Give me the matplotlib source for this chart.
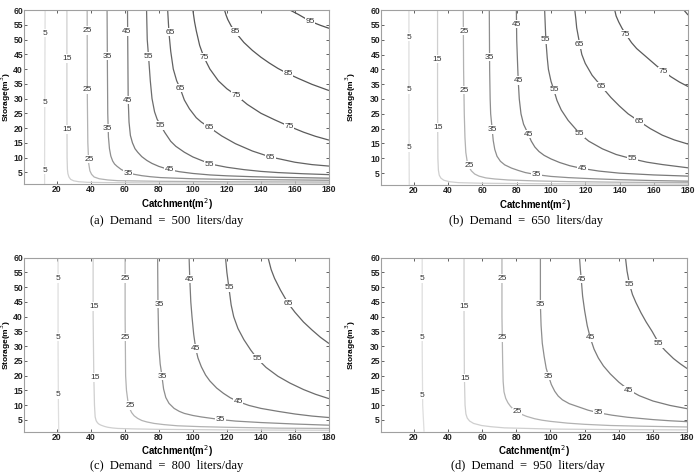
import matplotlib.pyplot as plt

DEMANDS = [500, 650, 800, 950]
TAGS = ["(a)", "(b)", "(c)", "(d)"]
X_TICKS = list(range(20, 181, 20))
Y_TICKS = list(range(5, 61, 5))

# contour lines: level -> (catchment m2, storage m3)
A_LINES = {
    5: ([13.2, 13.0, 12.9, 12.9], [60, 30, 10, 1]),
    15: ([26, 26, 26.1, 26.3, 26.6, 27.2, 28.2, 30, 33, 38, 50, 80, 180],
         [60, 30, 10, 6, 4.5, 3.4, 2.6, 2.1, 1.8, 1.6, 1.5, 1.4, 1.3]),
    25: ([37.9, 38, 38.3, 38.8, 39.5, 40.5, 42, 45, 50, 56, 80, 120, 180],
         [60, 30, 15, 8, 5.5, 4.3, 3.4, 2.8, 2.4, 2.15, 1.95, 1.8, 1.7]),
    35: ([49.6, 49.8, 50, 50.4, 51, 51.8, 52.9, 54, 55.5, 57.8, 60, 62, 65.6, 70, 75,
          81, 90, 100, 120, 140, 180],
         [60, 40, 25, 17, 13, 10.5, 8.8, 7.8, 7, 6.0, 5.3, 4.8, 4.3, 3.85, 3.5,
          3.2, 3.0, 2.8, 2.6, 2.5, 2.3]),
    45: ([61.6, 61.8, 62, 62.5, 63.3, 64.5, 66, 67.6, 70, 73, 76, 80, 86, 92, 100,
          110, 120, 135, 150, 180],
         [60, 45, 30, 22, 17.5, 15, 13, 11.8, 10.3, 9, 8, 7, 5.9, 5.2, 4.6,
          4.1, 3.8, 3.5, 3.3, 3.0]),
    55: ([72.8, 73.2, 74, 75, 76, 77.5, 79, 81, 83.5, 87, 90, 95, 100, 106, 112,
          120, 130, 140, 150, 165, 180],
         [60, 50, 44, 36, 30, 25.5, 23, 21, 18.5, 15.5, 13.8, 11.8, 10.2, 8.8, 7.6,
          6.7, 5.9, 5.3, 4.9, 4.5, 4.2]),
    65: ([85.2, 86, 87, 88.5, 90.5, 92.5, 95, 98, 102, 105, 109.5, 117, 125, 135,
          145.5, 160, 170, 180],
         [60, 52, 46, 40, 36, 33.5, 29.5, 26.5, 23.5, 22, 20.3, 17.3, 14.7, 12.2,
          10.2, 8.4, 7.6, 7.1]),
    75: ([100, 101, 102, 104, 106.5, 110, 115, 120, 125.7, 132, 140, 148, 156.5,
          165, 172, 180],
         [60, 56, 53, 48, 44, 40, 36, 33.3, 31, 28, 25, 22.8, 20.6,
          18.6, 17.2, 15.9]),
    85: ([118.6, 119.5, 120.5, 122.5, 124.7, 130, 135, 140, 145, 150, 155.9, 162,
          170, 180],
         [60, 58.3, 56.8, 54.6, 52.7, 49, 46.3, 44, 42, 40.2, 38.4, 36.8,
          34.8, 32.7]),
    95: ([157, 162, 168.9, 175, 180], [60, 58.5, 56.2, 54.8, 53.8]),
}
B_LINES = {
    5: ([17.1, 17.1, 17.2, 17.3], [60, 30, 10, 1]),
    15: ([33.8, 33.8, 34, 34.3, 34.8, 35.8, 37.5, 41, 46, 60, 100, 180],
         [60, 30, 10, 6, 4.3, 3.3, 2.6, 2.1, 1.8, 1.6, 1.4, 1.3]),
    25: ([48.8, 49, 49.4, 49.8, 50.3, 51, 52, 53.5, 55.5, 58, 62, 67, 75, 90, 110,
          140, 180],
         [60, 40, 25, 17, 12, 9.3, 7.3, 5.8, 4.7, 4.0, 3.4, 3.05, 2.7, 2.4, 2.15,
          1.95, 1.8]),
    35: ([64, 64.2, 64.5, 64.8, 65.7, 66.3, 67.2, 68.5, 70.5, 73, 77, 81, 85, 91.5,
          100, 110, 125, 140, 160, 180],
         [60, 40, 30, 25, 19.7, 16, 13, 10.7, 9, 7.8, 6.7, 5.9, 5.2, 4.5,
          3.9, 3.5, 3.1, 2.8, 2.5, 2.3]),
    45: ([79.8, 80, 80.5, 80.9, 81.5, 82.5, 84, 86.7, 88.5, 90.6, 93, 96, 100, 105,
          111, 118, 128, 140, 160, 180],
         [60, 50, 42, 36, 30, 25, 21.5, 18.2, 15.8, 13.8, 12.3, 11, 9.8, 8.6,
          7.5, 6.6, 5.7, 5.0, 4.4, 4.0]),
    55: ([96.3, 97, 97.8, 98.5, 100, 101.7, 103.5, 106, 110, 116.8, 122, 130, 138,
          147.5, 156, 165, 180],
         [60, 50, 44, 40, 36, 33, 29.5, 26.3, 22.8, 18.3, 15.8, 13.2, 11.3,
          9.8, 8.7, 7.9, 6.8]),
    65: ([113.9, 114.5, 115, 116.8, 118, 120, 124, 129.5, 135, 140, 145, 151.4, 158,
          165, 172, 180],
         [60, 57, 54, 48.4, 45, 42, 38, 34.2, 30.5, 27.6, 25, 22.5, 20,
          17.8, 16.2, 14.8]),
    75: ([137.2, 138, 139.5, 141.5, 143.6, 147, 150, 154, 158, 162, 165.8, 170, 175,
          180],
         [60, 58, 56, 53.8, 51.9, 49, 47, 45, 43, 41, 39.3, 37.5, 35.7, 34.2]),
    85: ([177.5, 179, 180], [60, 59, 58.3]),
}
C_LINES = {
    5: ([20.8, 20.8, 21.0, 21.2], [60, 30, 10, 1]),
    15: ([41.4, 41.4, 41.8, 42.2, 42.6, 43.2, 44, 45, 46.1, 48, 50, 53, 55.9, 65, 80,
          120, 180],
         [60, 40, 20, 10, 6, 4.7, 4, 3.5, 3.2, 2.8, 2.5, 2.25, 2.1, 1.95, 1.8,
          1.6, 1.5]),
    25: ([60.2, 60.2, 60.5, 61, 61.8, 62.8, 64, 65.5, 67.6, 70, 73, 77.3, 83, 91,
          105, 120, 150, 180],
         [60, 40, 20, 15, 11.5, 9, 7.5, 6.4, 5.5, 4.8, 4.3, 3.8, 3.4, 3.0,
          2.7, 2.5, 2.2, 2.1]),
    35: ([79.3, 79.5, 80, 80.8, 81.8, 82.8, 84.1, 86, 89, 92, 95, 100, 105, 110,
          116.3, 125, 140, 160, 180],
         [60, 45, 30, 24, 20, 15.5, 12.6, 10.6, 8.9, 7.9, 7.2, 6.5, 6.0, 5.6,
          5.1, 4.6, 4.1, 3.6, 3.2]),
    45: ([97.8, 98.2, 98.8, 99.5, 100.5, 101.7, 103, 105, 107.5, 110, 114, 118, 122,
          126.6, 133, 140, 150, 160, 170, 180],
         [60, 52.7, 45, 40, 34, 29.2, 26, 23, 20.2, 18.2, 15.8, 14, 12.5,
          11.2, 9.9, 8.9, 7.9, 7.0, 6.3, 5.8]),
    55: ([119.2, 120, 121.2, 122.5, 124, 126.5, 130, 134, 137.8, 143, 150, 157, 165,
          172, 180],
         [60, 55, 49.8, 44, 40, 36, 32.2, 28.7, 25.8, 22.8, 19.8, 17.5, 15.3,
          13.7, 12.2]),
    65: ([144.2, 146, 148, 151.5, 155.9, 160, 165, 170, 175, 180],
         [60, 56, 53, 49, 44.6, 41.5, 38.2, 35.5, 33, 30.9]),
}
D_LINES = {
    5: ([24.9, 24.9, 25.2, 26], [60, 30, 10, 1]),
    15: ([49.4, 49.4, 49.6, 50, 50.5, 51.3, 52.7, 55, 59.6, 65, 73, 100, 140, 180],
         [60, 40, 20, 10, 7, 5.6, 4.6, 3.8, 3.1, 2.7, 2.3, 1.9, 1.7, 1.6]),
    25: ([71.6, 71.6, 72, 72.3, 72.8, 73.8, 75.1, 76.6, 78.1, 80.4, 83, 86, 90.7,
          95, 100, 110, 120, 135, 150, 180],
         [60, 40, 25, 18, 14.5, 12.3, 10.8, 9.6, 8.7, 7.7, 6.9, 6.2, 5.4,
          4.9, 4.5, 3.9, 3.5, 3.1, 2.9, 2.6]),
    35: ([94.1, 94.1, 94.5, 95.2, 96.3, 97.5, 98.9, 100.5, 102.5, 104.5, 107, 111,
          117, 122, 128.2, 136, 145, 160, 170, 180],
         [60, 44, 37, 31, 26.5, 22.5, 19.8, 17, 14.7, 13.1, 11.8, 10.5,
          9.3, 8.3, 7.4, 6.6, 5.9, 5.1, 4.7, 4.4]),
    45: ([117, 117.5, 118, 118.8, 120, 121.5, 123.3, 125.5, 128, 131, 135, 140,
          145.7, 152, 160, 170, 180],
         [60, 56, 52.7, 47, 42, 37, 32.8, 29, 26, 23.3, 20.6, 17.8,
          15.2, 13.2, 11.4, 9.9, 8.8]),
    55: ([143.9, 144.8, 146.3, 148, 150, 153, 156, 159.5, 163.4, 167, 172, 176, 180],
         [60, 55.5, 50.9, 47.5, 44.8, 41.3, 38.2, 35, 31, 28.6, 25.8, 24, 22.4]),
}

# inline label positions: level -> [(catchment, storage), ...]
A_LABELS = {
    5: [(13, 52.1), (13, 28.5), (13, 5.7)],
    15: [(26, 43.6), (26.3, 19.5)],
    25: [(37.9, 53), (37.9, 33), (38.9, 9.4)],
    35: [(49.6, 44.3), (50, 20), (61.9, 4.7)],
    45: [(61.3, 52.7), (61.7, 29.4), (86.4, 5.8)],
    55: [(74, 44.2), (81.2, 20.9), (109.9, 7.5)],
    65: [(86.5, 52.5), (92.5, 33.5), (109.5, 20.3), (145.5, 10)],
    75: [(106.6, 44), (125.7, 31), (156.5, 20.6)],
    85: [(124.7, 52.7), (155.9, 38.4)],
    95: [(168.9, 56.2)],
}
B_LABELS = {
    5: [(17.1, 50.8), (17.1, 33.1), (17.1, 13.5)],
    15: [(33.8, 43.4), (34.2, 20.4)],
    25: [(49.4, 52.9), (49.4, 33), (52.1, 7.7)],
    35: [(64.3, 44.1), (65.7, 19.7), (91.5, 4.5)],
    45: [(79.9, 55.2), (80.9, 36.2), (86.7, 18.2), (118.2, 6.6)],
    55: [(97, 49.9), (101.7, 33.1), (116.8, 18.3), (147.5, 9.8)],
    65: [(116.8, 48.4), (129.5, 34.2), (151.4, 22.5)],
    75: [(143.6, 51.9), (165.8, 39.3)],
}
C_LABELS = {
    5: [(20.8, 52.9), (20.8, 33.1), (20.8, 13.5)],
    15: [(42.2, 43.4), (42.6, 19.4)],
    25: [(60.2, 52.9), (60.2, 33), (63.2, 9.9)],
    35: [(80.2, 44.2), (81.8, 19.8), (116.3, 5.1)],
    45: [(98.2, 52.7), (101.7, 29.2), (126.6, 11.1)],
    55: [(121.2, 49.8), (137.8, 25.8)],
    65: [(155.9, 44.6)],
}
D_LABELS = {
    5: [(24.9, 52.9), (24.9, 33.1), (24.9, 13.4)],
    15: [(49.4, 43.4), (49.8, 19.1)],
    25: [(71.6, 52.9), (71.6, 32.8), (80.4, 7.7)],
    35: [(94.1, 44.1), (98.9, 19.8), (128.2, 7.4)],
    45: [(118, 52.7), (123.3, 32.8), (145.7, 15)],
    55: [(146.3, 50.9), (163.4, 30.9)],
}

LEVEL_COLORS = {5: "#dedede", 15: "#cfcfcf", 25: "#b2b2b2", 35: "#8e8e8e",
                45: "#7a7a7a", 55: "#6c6c6c", 65: "#626262", 75: "#5a5a5a",
                85: "#555555", 95: "#505050"}

AX_RECTS = [
    [0.0350, 0.610, 0.4377, 0.3688],
    [0.5479, 0.608, 0.4407, 0.3708],
    [0.0350, 0.0854, 0.4377, 0.3686],
    [0.5479, 0.0854, 0.4394, 0.3686],
]
YLABEL_X = [-0.037, -0.075, -0.037, -0.075]
CAPTION_POS = [(0.240, 0.532), (0.756, 0.532), (0.240, 0.012), (0.758, 0.012)]
SANS = "Liberation Sans"

fig = plt.figure(figsize=(6.96, 4.72), dpi=100)

panels = [(A_LINES, A_LABELS), (B_LINES, B_LABELS), (C_LINES, C_LABELS), (D_LINES, D_LABELS)]
for i, (lines, labels) in enumerate(panels):
    ax = fig.add_axes(AX_RECTS[i])
    for level, (xs, ys) in lines.items():
        ax.plot(xs, ys, color=LEVEL_COLORS[level], lw=0.9, solid_capstyle="butt")
    for level, spots in labels.items():
        for x, y in spots:
            ax.text(x, y, str(level), ha="center", va="center", fontsize=6,
                    color="#333333", family=SANS,
                    bbox=dict(boxstyle="square,pad=0.08", fc="white", ec="none"))

    ax.set_xlim(1, 180)
    ax.set_ylim(1, 60)
    ax.set_xticks(X_TICKS)
    ax.set_yticks(Y_TICKS)
    ax.tick_params(direction="in", top=True, right=True, length=2.5, width=0.5,
                   labelsize=6.2, pad=1.0, colors="#222222")
    for lab in ax.get_xticklabels() + ax.get_yticklabels():
        lab.set_fontweight("bold")
        lab.set_family(SANS)
    for sp in ax.spines.values():
        sp.set_color("#a0a0a0")
        sp.set_linewidth(0.8)
    ax.set_xlabel("Catchment(m$^2$)", fontsize=7, fontweight="bold", family=SANS,
                  labelpad=1)
    ax.set_ylabel("Storage(m$^3$)", fontsize=6, fontweight="bold", family=SANS)
    ax.yaxis.set_label_coords(YLABEL_X[i], 0.5)

    cx, cy = CAPTION_POS[i]
    fig.text(cx, cy, f"{TAGS[i]}  Demand  =  {DEMANDS[i]}  liters/day",
             ha="center", va="center", family="Liberation Serif", fontsize=9)

fig.savefig("out.png", dpi=100)
